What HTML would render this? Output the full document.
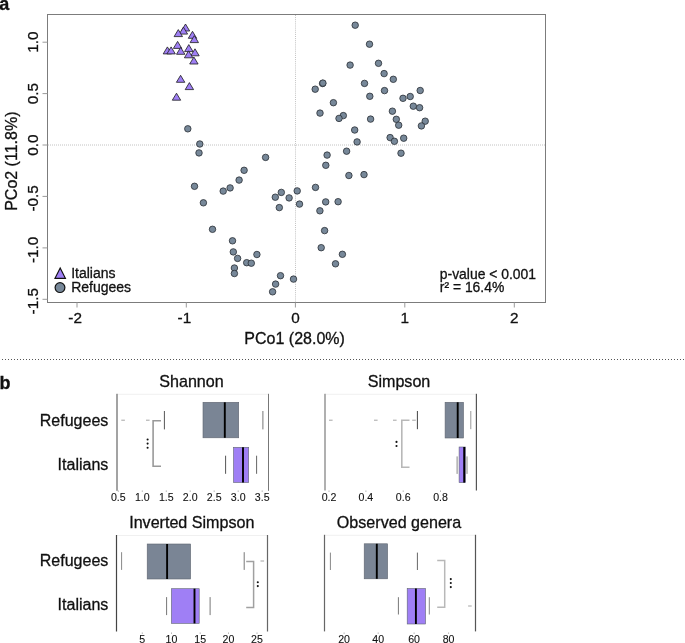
<!DOCTYPE html>
<html><head><meta charset="utf-8"><title>PCoA and diversity</title>
<style>
html,body{margin:0;padding:0;background:#fff;}
body{width:685px;height:643px;overflow:hidden;}
svg{display:block;will-change:transform;}
text{font-family:"Liberation Sans",sans-serif;fill:#111;stroke:#111;stroke-width:0.3px;}
</style></head>
<body>
<svg width="685" height="643" viewBox="0 0 685 643" font-family="Liberation Sans, sans-serif">
<rect width="685" height="643" fill="#fff"/>
<text x="-0.8" y="9.5" font-size="18" font-weight="bold">a</text>
<line x1="48" y1="145" x2="545" y2="145" stroke="#c2c2c2" stroke-width="1" stroke-dasharray="1 1"/>
<line x1="295.5" y1="15" x2="295.5" y2="302" stroke="#c2c2c2" stroke-width="1" stroke-dasharray="1 1.1"/>
<rect x="47.5" y="14.5" width="498" height="288" fill="none" stroke="#7c7c7c" stroke-width="1"/>
<line x1="77.0" y1="302.5" x2="77.0" y2="307.5" stroke="#9a9a9a" stroke-width="1"/>
<text x="75.1" y="323.3" font-size="15.3" text-anchor="middle">-2</text>
<line x1="186.3" y1="302.5" x2="186.3" y2="307.5" stroke="#9a9a9a" stroke-width="1"/>
<text x="184.4" y="323.3" font-size="15.3" text-anchor="middle">-1</text>
<line x1="295.4" y1="302.5" x2="295.4" y2="307.5" stroke="#9a9a9a" stroke-width="1"/>
<text x="295.4" y="323.3" font-size="15.3" text-anchor="middle">0</text>
<line x1="404.8" y1="302.5" x2="404.8" y2="307.5" stroke="#9a9a9a" stroke-width="1"/>
<text x="404.8" y="323.3" font-size="15.3" text-anchor="middle">1</text>
<line x1="514.3" y1="302.5" x2="514.3" y2="307.5" stroke="#9a9a9a" stroke-width="1"/>
<text x="514.3" y="323.3" font-size="15.3" text-anchor="middle">2</text>
<line x1="42.5" y1="42.2" x2="47.5" y2="42.2" stroke="#9a9a9a" stroke-width="1"/>
<text x="38.2" y="42.2" font-size="15.3" text-anchor="middle" transform="rotate(-90 38.2 42.2)">1.0</text>
<line x1="42.5" y1="93.6" x2="47.5" y2="93.6" stroke="#9a9a9a" stroke-width="1"/>
<text x="38.2" y="93.6" font-size="15.3" text-anchor="middle" transform="rotate(-90 38.2 93.6)">0.5</text>
<line x1="42.5" y1="145.0" x2="47.5" y2="145.0" stroke="#9a9a9a" stroke-width="1"/>
<text x="38.2" y="145.0" font-size="15.3" text-anchor="middle" transform="rotate(-90 38.2 145.0)">0.0</text>
<line x1="42.5" y1="196.4" x2="47.5" y2="196.4" stroke="#9a9a9a" stroke-width="1"/>
<text x="38.2" y="198.3" font-size="15.3" text-anchor="middle" transform="rotate(-90 38.2 198.3)">-0.5</text>
<line x1="42.5" y1="247.9" x2="47.5" y2="247.9" stroke="#9a9a9a" stroke-width="1"/>
<text x="38.2" y="249.8" font-size="15.3" text-anchor="middle" transform="rotate(-90 38.2 249.8)">-1.0</text>
<line x1="42.5" y1="299.3" x2="47.5" y2="299.3" stroke="#9a9a9a" stroke-width="1"/>
<text x="38.2" y="301.2" font-size="15.3" text-anchor="middle" transform="rotate(-90 38.2 301.2)">-1.5</text>
<text x="294.6" y="343.5" font-size="16" text-anchor="middle">PCo1 (28.0%)</text>
<text x="16.8" y="161.2" font-size="16" text-anchor="middle" transform="rotate(-90 16.8 161.2)">PCo2 (11.8%)</text>
<circle cx="187.8" cy="128.8" r="3.25" fill="#778899" stroke="#2a2e35" stroke-width="0.8"/>
<circle cx="199.8" cy="144.0" r="3.25" fill="#778899" stroke="#2a2e35" stroke-width="0.8"/>
<circle cx="199.0" cy="152.9" r="3.25" fill="#778899" stroke="#2a2e35" stroke-width="0.8"/>
<circle cx="265.6" cy="157.4" r="3.25" fill="#778899" stroke="#2a2e35" stroke-width="0.8"/>
<circle cx="244.1" cy="170.3" r="3.25" fill="#778899" stroke="#2a2e35" stroke-width="0.8"/>
<circle cx="239.1" cy="180.1" r="3.25" fill="#778899" stroke="#2a2e35" stroke-width="0.8"/>
<circle cx="194.5" cy="186.3" r="3.25" fill="#778899" stroke="#2a2e35" stroke-width="0.8"/>
<circle cx="230.1" cy="187.9" r="3.25" fill="#778899" stroke="#2a2e35" stroke-width="0.8"/>
<circle cx="223.2" cy="191.1" r="3.25" fill="#778899" stroke="#2a2e35" stroke-width="0.8"/>
<circle cx="275.3" cy="197.2" r="3.25" fill="#778899" stroke="#2a2e35" stroke-width="0.8"/>
<circle cx="203.4" cy="202.8" r="3.25" fill="#778899" stroke="#2a2e35" stroke-width="0.8"/>
<circle cx="212.5" cy="229.3" r="3.25" fill="#778899" stroke="#2a2e35" stroke-width="0.8"/>
<circle cx="232.5" cy="240.8" r="3.25" fill="#778899" stroke="#2a2e35" stroke-width="0.8"/>
<circle cx="233.3" cy="251.9" r="3.25" fill="#778899" stroke="#2a2e35" stroke-width="0.8"/>
<circle cx="237.6" cy="258.4" r="3.25" fill="#778899" stroke="#2a2e35" stroke-width="0.8"/>
<circle cx="256.9" cy="254.5" r="3.25" fill="#778899" stroke="#2a2e35" stroke-width="0.8"/>
<circle cx="246.7" cy="262.7" r="3.25" fill="#778899" stroke="#2a2e35" stroke-width="0.8"/>
<circle cx="251.3" cy="263.2" r="3.25" fill="#778899" stroke="#2a2e35" stroke-width="0.8"/>
<circle cx="234.4" cy="268.0" r="3.25" fill="#778899" stroke="#2a2e35" stroke-width="0.8"/>
<circle cx="234.4" cy="273.5" r="3.25" fill="#778899" stroke="#2a2e35" stroke-width="0.8"/>
<circle cx="275.6" cy="284.1" r="3.25" fill="#778899" stroke="#2a2e35" stroke-width="0.8"/>
<circle cx="272.6" cy="291.8" r="3.25" fill="#778899" stroke="#2a2e35" stroke-width="0.8"/>
<circle cx="280.5" cy="275.7" r="3.25" fill="#778899" stroke="#2a2e35" stroke-width="0.8"/>
<circle cx="279.3" cy="207.6" r="3.25" fill="#778899" stroke="#2a2e35" stroke-width="0.8"/>
<circle cx="327.1" cy="155.1" r="3.25" fill="#778899" stroke="#2a2e35" stroke-width="0.8"/>
<circle cx="346.6" cy="151.2" r="3.25" fill="#778899" stroke="#2a2e35" stroke-width="0.8"/>
<circle cx="357.1" cy="141.9" r="3.25" fill="#778899" stroke="#2a2e35" stroke-width="0.8"/>
<circle cx="325.8" cy="165.3" r="3.25" fill="#778899" stroke="#2a2e35" stroke-width="0.8"/>
<circle cx="348.9" cy="175.5" r="3.25" fill="#778899" stroke="#2a2e35" stroke-width="0.8"/>
<circle cx="364.0" cy="174.6" r="3.25" fill="#778899" stroke="#2a2e35" stroke-width="0.8"/>
<circle cx="315.5" cy="187.4" r="3.25" fill="#778899" stroke="#2a2e35" stroke-width="0.8"/>
<circle cx="297.2" cy="190.9" r="3.25" fill="#778899" stroke="#2a2e35" stroke-width="0.8"/>
<circle cx="281.3" cy="192.4" r="3.25" fill="#778899" stroke="#2a2e35" stroke-width="0.8"/>
<circle cx="289.1" cy="197.9" r="3.25" fill="#778899" stroke="#2a2e35" stroke-width="0.8"/>
<circle cx="299.5" cy="204.1" r="3.25" fill="#778899" stroke="#2a2e35" stroke-width="0.8"/>
<circle cx="325.7" cy="201.9" r="3.25" fill="#778899" stroke="#2a2e35" stroke-width="0.8"/>
<circle cx="338.1" cy="201.7" r="3.25" fill="#778899" stroke="#2a2e35" stroke-width="0.8"/>
<circle cx="319.9" cy="210.8" r="3.25" fill="#778899" stroke="#2a2e35" stroke-width="0.8"/>
<circle cx="324.6" cy="230.6" r="3.25" fill="#778899" stroke="#2a2e35" stroke-width="0.8"/>
<circle cx="321.2" cy="247.7" r="3.25" fill="#778899" stroke="#2a2e35" stroke-width="0.8"/>
<circle cx="342.4" cy="254.3" r="3.25" fill="#778899" stroke="#2a2e35" stroke-width="0.8"/>
<circle cx="335.5" cy="263.8" r="3.25" fill="#778899" stroke="#2a2e35" stroke-width="0.8"/>
<circle cx="293.5" cy="279.1" r="3.25" fill="#778899" stroke="#2a2e35" stroke-width="0.8"/>
<circle cx="355.2" cy="25.2" r="3.25" fill="#778899" stroke="#2a2e35" stroke-width="0.8"/>
<circle cx="369.5" cy="44.2" r="3.25" fill="#778899" stroke="#2a2e35" stroke-width="0.8"/>
<circle cx="350.1" cy="65.1" r="3.25" fill="#778899" stroke="#2a2e35" stroke-width="0.8"/>
<circle cx="378.5" cy="63.3" r="3.25" fill="#778899" stroke="#2a2e35" stroke-width="0.8"/>
<circle cx="384.1" cy="73.6" r="3.25" fill="#778899" stroke="#2a2e35" stroke-width="0.8"/>
<circle cx="393.3" cy="79.3" r="3.25" fill="#778899" stroke="#2a2e35" stroke-width="0.8"/>
<circle cx="322.6" cy="83.5" r="3.25" fill="#778899" stroke="#2a2e35" stroke-width="0.8"/>
<circle cx="322.9" cy="83.1" r="3.25" fill="#778899" stroke="#2a2e35" stroke-width="0.8"/>
<circle cx="315.2" cy="89.2" r="3.25" fill="#778899" stroke="#2a2e35" stroke-width="0.8"/>
<circle cx="364.5" cy="83.4" r="3.25" fill="#778899" stroke="#2a2e35" stroke-width="0.8"/>
<circle cx="384.5" cy="90.6" r="3.25" fill="#778899" stroke="#2a2e35" stroke-width="0.8"/>
<circle cx="369.8" cy="96.3" r="3.25" fill="#778899" stroke="#2a2e35" stroke-width="0.8"/>
<circle cx="333.4" cy="102.7" r="3.25" fill="#778899" stroke="#2a2e35" stroke-width="0.8"/>
<circle cx="320.0" cy="113.1" r="3.25" fill="#778899" stroke="#2a2e35" stroke-width="0.8"/>
<circle cx="343.3" cy="115.6" r="3.25" fill="#778899" stroke="#2a2e35" stroke-width="0.8"/>
<circle cx="392.4" cy="111.2" r="3.25" fill="#778899" stroke="#2a2e35" stroke-width="0.8"/>
<circle cx="420.2" cy="90.5" r="3.25" fill="#778899" stroke="#2a2e35" stroke-width="0.8"/>
<circle cx="403.0" cy="98.3" r="3.25" fill="#778899" stroke="#2a2e35" stroke-width="0.8"/>
<circle cx="410.2" cy="96.5" r="3.25" fill="#778899" stroke="#2a2e35" stroke-width="0.8"/>
<circle cx="413.3" cy="106.2" r="3.25" fill="#778899" stroke="#2a2e35" stroke-width="0.8"/>
<circle cx="419.6" cy="107.7" r="3.25" fill="#778899" stroke="#2a2e35" stroke-width="0.8"/>
<circle cx="370.6" cy="119.1" r="3.25" fill="#778899" stroke="#2a2e35" stroke-width="0.8"/>
<circle cx="396.3" cy="119.3" r="3.25" fill="#778899" stroke="#2a2e35" stroke-width="0.8"/>
<circle cx="398.7" cy="125.2" r="3.25" fill="#778899" stroke="#2a2e35" stroke-width="0.8"/>
<circle cx="425.2" cy="121.2" r="3.25" fill="#778899" stroke="#2a2e35" stroke-width="0.8"/>
<circle cx="421.4" cy="125.9" r="3.25" fill="#778899" stroke="#2a2e35" stroke-width="0.8"/>
<circle cx="339.0" cy="118.4" r="3.25" fill="#778899" stroke="#2a2e35" stroke-width="0.8"/>
<circle cx="354.7" cy="130.0" r="3.25" fill="#778899" stroke="#2a2e35" stroke-width="0.8"/>
<circle cx="390.1" cy="137.6" r="3.25" fill="#778899" stroke="#2a2e35" stroke-width="0.8"/>
<circle cx="394.4" cy="141.3" r="3.25" fill="#778899" stroke="#2a2e35" stroke-width="0.8"/>
<circle cx="403.7" cy="138.2" r="3.25" fill="#778899" stroke="#2a2e35" stroke-width="0.8"/>
<circle cx="401.0" cy="153.2" r="3.25" fill="#778899" stroke="#2a2e35" stroke-width="0.8"/>
<polygon points="185.5,24.00 181.30,31.00 189.70,31.00" fill="#9f7ff5" stroke="#1a1a1a" stroke-width="0.8" stroke-linejoin="miter"/>
<polygon points="183.4,27.10 179.20,34.10 187.60,34.10" fill="#9f7ff5" stroke="#1a1a1a" stroke-width="0.8" stroke-linejoin="miter"/>
<polygon points="178.3,29.60 174.10,36.60 182.50,36.60" fill="#9f7ff5" stroke="#1a1a1a" stroke-width="0.8" stroke-linejoin="miter"/>
<polygon points="192.5,31.30 188.30,38.30 196.70,38.30" fill="#9f7ff5" stroke="#1a1a1a" stroke-width="0.8" stroke-linejoin="miter"/>
<polygon points="194.3,35.60 190.10,42.60 198.50,42.60" fill="#9f7ff5" stroke="#1a1a1a" stroke-width="0.8" stroke-linejoin="miter"/>
<polygon points="177.6,41.40 173.40,48.40 181.80,48.40" fill="#9f7ff5" stroke="#1a1a1a" stroke-width="0.8" stroke-linejoin="miter"/>
<polygon points="167.4,46.90 163.20,53.90 171.60,53.90" fill="#9f7ff5" stroke="#1a1a1a" stroke-width="0.8" stroke-linejoin="miter"/>
<polygon points="171.1,46.90 166.90,53.90 175.30,53.90" fill="#9f7ff5" stroke="#1a1a1a" stroke-width="0.8" stroke-linejoin="miter"/>
<polygon points="180.7,47.30 176.50,54.30 184.90,54.30" fill="#9f7ff5" stroke="#1a1a1a" stroke-width="0.8" stroke-linejoin="miter"/>
<polygon points="188.8,44.60 184.60,51.60 193.00,51.60" fill="#9f7ff5" stroke="#1a1a1a" stroke-width="0.8" stroke-linejoin="miter"/>
<polygon points="195.0,48.80 190.80,55.80 199.20,55.80" fill="#9f7ff5" stroke="#1a1a1a" stroke-width="0.8" stroke-linejoin="miter"/>
<polygon points="188.6,50.80 184.40,57.80 192.80,57.80" fill="#9f7ff5" stroke="#1a1a1a" stroke-width="0.8" stroke-linejoin="miter"/>
<polygon points="193.9,57.00 189.70,64.00 198.10,64.00" fill="#9f7ff5" stroke="#1a1a1a" stroke-width="0.8" stroke-linejoin="miter"/>
<polygon points="180.6,75.30 176.40,82.30 184.80,82.30" fill="#9f7ff5" stroke="#1a1a1a" stroke-width="0.8" stroke-linejoin="miter"/>
<polygon points="189.4,82.60 185.20,89.60 193.60,89.60" fill="#9f7ff5" stroke="#1a1a1a" stroke-width="0.8" stroke-linejoin="miter"/>
<polygon points="176.5,93.20 172.30,100.20 180.70,100.20" fill="#9f7ff5" stroke="#1a1a1a" stroke-width="0.8" stroke-linejoin="miter"/>
<polygon points="60.2,268.0 55.0,278.3 65.4,278.3" fill="#9f7ff5" stroke="#111" stroke-width="1.2"/>
<circle cx="60.0" cy="287.6" r="4.9" fill="#778899" stroke="#111" stroke-width="1.2"/>
<text x="71.2" y="277.8" font-size="14">Italians</text>
<text x="71.2" y="291.6" font-size="14">Refugees</text>
<text x="439.8" y="278.9" font-size="13.9">p-value &lt; 0.001</text>
<text x="439.8" y="291.9" font-size="13.9">r² = 16.4%</text>
<line x1="2" y1="359.5" x2="685" y2="359.5" stroke="#555" stroke-width="1" stroke-dasharray="1 2"/>
<text x="-0.6" y="389" font-size="18" font-weight="bold">b</text>
<line x1="117.0" y1="394.3" x2="268.5" y2="394.3" stroke="#f0f0f0" stroke-width="1"/>
<rect x="116.0" y="393.8" width="2" height="97.0" fill="#a3a3a3"/>
<rect x="268.0" y="393.8" width="1" height="97.0" fill="#777"/>
<text x="191.5" y="386.8" font-size="16.1" text-anchor="middle">Shannon</text>
<line x1="164.4" y1="411.0" x2="164.4" y2="429.4" stroke="#555" stroke-width="1"/>
<line x1="262.9" y1="411.0" x2="262.9" y2="429.4" stroke="#777" stroke-width="1"/>
<rect x="203.0" y="402.3" width="35.70" height="35.50" fill="#7a8595" stroke="#5f6570" stroke-width="0.6"/>
<line x1="224.8" y1="402.3" x2="224.8" y2="437.8" stroke="#000" stroke-width="1.9"/>
<line x1="225.6" y1="455.7" x2="225.6" y2="473.8" stroke="#555" stroke-width="1"/>
<line x1="256.6" y1="455.7" x2="256.6" y2="473.8" stroke="#666" stroke-width="1"/>
<rect x="233.5" y="447.3" width="15.20" height="35.20" fill="#9f7ff5" stroke="#5f6570" stroke-width="0.6"/>
<line x1="243.0" y1="447.3" x2="243.0" y2="482.5" stroke="#000" stroke-width="1.9"/>
<line x1="121.3" y1="420.2" x2="124.89999999999999" y2="420.2" stroke="#9a9a9a" stroke-width="0.9"/>
<line x1="146.0" y1="420.2" x2="149.60000000000002" y2="420.2" stroke="#9a9a9a" stroke-width="0.9"/>
<line x1="118.3" y1="490.40000000000003" x2="118.3" y2="492.0" stroke="#aaa" stroke-width="0.8"/>
<text x="118.3" y="500.6" font-size="10.6" text-anchor="middle" style="stroke-width:0.1px">0.5</text>
<line x1="142.3" y1="490.40000000000003" x2="142.3" y2="492.0" stroke="#aaa" stroke-width="0.8"/>
<text x="142.3" y="500.6" font-size="10.6" text-anchor="middle" style="stroke-width:0.1px">1.0</text>
<line x1="166.3" y1="490.40000000000003" x2="166.3" y2="492.0" stroke="#aaa" stroke-width="0.8"/>
<text x="166.3" y="500.6" font-size="10.6" text-anchor="middle" style="stroke-width:0.1px">1.5</text>
<line x1="190.2" y1="490.40000000000003" x2="190.2" y2="492.0" stroke="#aaa" stroke-width="0.8"/>
<text x="190.2" y="500.6" font-size="10.6" text-anchor="middle" style="stroke-width:0.1px">2.0</text>
<line x1="214.2" y1="490.40000000000003" x2="214.2" y2="492.0" stroke="#aaa" stroke-width="0.8"/>
<text x="214.2" y="500.6" font-size="10.6" text-anchor="middle" style="stroke-width:0.1px">2.5</text>
<line x1="238.2" y1="490.40000000000003" x2="238.2" y2="492.0" stroke="#aaa" stroke-width="0.8"/>
<text x="238.2" y="500.6" font-size="10.6" text-anchor="middle" style="stroke-width:0.1px">3.0</text>
<line x1="262.2" y1="490.40000000000003" x2="262.2" y2="492.0" stroke="#aaa" stroke-width="0.8"/>
<text x="262.2" y="500.6" font-size="10.6" text-anchor="middle" style="stroke-width:0.1px">3.5</text>
<polyline points="161.0,420.7 153.1,420.7 153.1,466.2 161.0,466.2" fill="none" stroke="#999" stroke-width="1.6"/>
<circle cx="147.6" cy="439.5" r="1.05" fill="#111"/>
<circle cx="147.6" cy="443.6" r="1.05" fill="#111"/>
<circle cx="147.6" cy="447.7" r="1.05" fill="#111"/>
<line x1="325.0" y1="394.3" x2="476.4" y2="394.3" stroke="#f0f0f0" stroke-width="1"/>
<rect x="324.0" y="393.8" width="2" height="96.69999999999999" fill="#b0b0b0"/>
<rect x="475.79999999999995" y="393.8" width="1.2" height="96.69999999999999" fill="#555"/>
<text x="399.0" y="386.9" font-size="16.1" text-anchor="middle">Simpson</text>
<line x1="417.4" y1="411.0" x2="417.4" y2="429.2" stroke="#444" stroke-width="1"/>
<line x1="470.8" y1="411.0" x2="470.8" y2="429.2" stroke="#999" stroke-width="1"/>
<rect x="445.1" y="402.3" width="18.40" height="35.70" fill="#7a8595" stroke="#5f6570" stroke-width="0.6"/>
<line x1="457.7" y1="402.3" x2="457.7" y2="438.0" stroke="#000" stroke-width="1.9"/>
<line x1="457.1" y1="456.4" x2="457.1" y2="473.9" stroke="#888" stroke-width="1"/>
<line x1="467.0" y1="456.4" x2="467.0" y2="473.9" stroke="#888" stroke-width="1"/>
<rect x="459.1" y="447.0" width="6.40" height="35.60" fill="#9f7ff5" stroke="#5f6570" stroke-width="0.6"/>
<line x1="464.2" y1="447.0" x2="464.2" y2="482.6" stroke="#000" stroke-width="1.9"/>
<line x1="329.0" y1="420.2" x2="332.6" y2="420.2" stroke="#9a9a9a" stroke-width="0.9"/>
<line x1="374.0" y1="420.2" x2="377.6" y2="420.2" stroke="#9a9a9a" stroke-width="0.9"/>
<line x1="393.0" y1="420.2" x2="396.6" y2="420.2" stroke="#9a9a9a" stroke-width="0.9"/>
<line x1="412.2" y1="420.2" x2="415.8" y2="420.2" stroke="#9a9a9a" stroke-width="0.9"/>
<line x1="329.0" y1="490.40000000000003" x2="329.0" y2="492.0" stroke="#aaa" stroke-width="0.8"/>
<text x="329.0" y="500.6" font-size="10.6" text-anchor="middle" style="stroke-width:0.1px">0.2</text>
<line x1="365.9" y1="490.40000000000003" x2="365.9" y2="492.0" stroke="#aaa" stroke-width="0.8"/>
<text x="365.9" y="500.6" font-size="10.6" text-anchor="middle" style="stroke-width:0.1px">0.4</text>
<line x1="403.2" y1="490.40000000000003" x2="403.2" y2="492.0" stroke="#aaa" stroke-width="0.8"/>
<text x="403.2" y="500.6" font-size="10.6" text-anchor="middle" style="stroke-width:0.1px">0.6</text>
<line x1="440.5" y1="490.40000000000003" x2="440.5" y2="492.0" stroke="#aaa" stroke-width="0.8"/>
<text x="440.5" y="500.6" font-size="10.6" text-anchor="middle" style="stroke-width:0.1px">0.8</text>
<polyline points="409.5,420.2 401.8,420.2 401.8,467.2 409.5,467.2" fill="none" stroke="#b8b8b8" stroke-width="1.6"/>
<circle cx="396.5" cy="441.9" r="1.05" fill="#111"/>
<circle cx="396.5" cy="446.0" r="1.05" fill="#111"/>
<line x1="116.5" y1="535.5" x2="267.5" y2="535.5" stroke="#f0f0f0" stroke-width="1"/>
<rect x="115.9" y="535.0" width="1.2" height="96.5" fill="#444"/>
<rect x="266.9" y="535.0" width="1.2" height="96.5" fill="#666"/>
<text x="191.8" y="527.7" font-size="16.1" text-anchor="middle">Inverted Simpson</text>
<line x1="121.6" y1="552.2" x2="121.6" y2="569.9" stroke="#888" stroke-width="1"/>
<line x1="244.2" y1="552.2" x2="244.2" y2="569.9" stroke="#777" stroke-width="1"/>
<rect x="147.2" y="544.0" width="43.40" height="35.00" fill="#7a8595" stroke="#5f6570" stroke-width="0.6"/>
<line x1="167.1" y1="544.0" x2="167.1" y2="579.0" stroke="#000" stroke-width="1.9"/>
<line x1="166.6" y1="597.1" x2="166.6" y2="615.1" stroke="#777" stroke-width="1"/>
<line x1="210.1" y1="597.1" x2="210.1" y2="615.1" stroke="#777" stroke-width="1"/>
<rect x="171.4" y="588.7" width="27.80" height="34.70" fill="#9f7ff5" stroke="#5f6570" stroke-width="0.6"/>
<line x1="194.5" y1="588.7" x2="194.5" y2="623.4" stroke="#000" stroke-width="1.9"/>
<line x1="260.5" y1="561.0" x2="264.1" y2="561.0" stroke="#9a9a9a" stroke-width="0.9"/>
<line x1="142.3" y1="632.4" x2="142.3" y2="634.0" stroke="#aaa" stroke-width="0.8"/>
<text x="142.3" y="642.6" font-size="10.6" text-anchor="middle" style="stroke-width:0.1px">5</text>
<line x1="171.5" y1="632.4" x2="171.5" y2="634.0" stroke="#aaa" stroke-width="0.8"/>
<text x="171.5" y="642.6" font-size="10.6" text-anchor="middle" style="stroke-width:0.1px">10</text>
<line x1="200.2" y1="632.4" x2="200.2" y2="634.0" stroke="#aaa" stroke-width="0.8"/>
<text x="200.2" y="642.6" font-size="10.6" text-anchor="middle" style="stroke-width:0.1px">15</text>
<line x1="228.5" y1="632.4" x2="228.5" y2="634.0" stroke="#aaa" stroke-width="0.8"/>
<text x="228.5" y="642.6" font-size="10.6" text-anchor="middle" style="stroke-width:0.1px">20</text>
<line x1="257.0" y1="632.4" x2="257.0" y2="634.0" stroke="#aaa" stroke-width="0.8"/>
<text x="257.0" y="642.6" font-size="10.6" text-anchor="middle" style="stroke-width:0.1px">25</text>
<polyline points="246.2,561.6 253.6,561.6 253.6,607.6 246.2,607.6" fill="none" stroke="#a0a0a0" stroke-width="1.5"/>
<circle cx="257.8" cy="582.3" r="1.05" fill="#111"/>
<circle cx="257.8" cy="586.1" r="1.05" fill="#111"/>
<line x1="324.5" y1="535.3" x2="475.5" y2="535.3" stroke="#f0f0f0" stroke-width="1"/>
<rect x="323.9" y="534.8" width="1.2" height="96.60000000000002" fill="#666"/>
<rect x="474.9" y="534.8" width="1.2" height="96.60000000000002" fill="#555"/>
<text x="399.0" y="528.0" font-size="16.1" text-anchor="middle">Observed genera</text>
<line x1="330.4" y1="552.6" x2="330.4" y2="570.0" stroke="#888" stroke-width="1"/>
<line x1="417.4" y1="552.6" x2="417.4" y2="570.0" stroke="#666" stroke-width="1"/>
<rect x="364.2" y="543.8" width="23.40" height="35.00" fill="#7a8595" stroke="#5f6570" stroke-width="0.6"/>
<line x1="376.8" y1="543.8" x2="376.8" y2="578.8" stroke="#000" stroke-width="1.9"/>
<line x1="398.4" y1="597.2" x2="398.4" y2="614.5" stroke="#777" stroke-width="1"/>
<line x1="429.3" y1="597.2" x2="429.3" y2="614.5" stroke="#888" stroke-width="1"/>
<rect x="407.2" y="588.5" width="18.30" height="35.50" fill="#9f7ff5" stroke="#5f6570" stroke-width="0.6"/>
<line x1="415.9" y1="588.5" x2="415.9" y2="624.0" stroke="#000" stroke-width="1.9"/>
<line x1="468.09999999999997" y1="606.0" x2="471.7" y2="606.0" stroke="#9a9a9a" stroke-width="0.9"/>
<line x1="344.1" y1="632.4" x2="344.1" y2="634.0" stroke="#aaa" stroke-width="0.8"/>
<text x="344.1" y="642.6" font-size="10.6" text-anchor="middle" style="stroke-width:0.1px">20</text>
<line x1="378.2" y1="632.4" x2="378.2" y2="634.0" stroke="#aaa" stroke-width="0.8"/>
<text x="378.2" y="642.6" font-size="10.6" text-anchor="middle" style="stroke-width:0.1px">40</text>
<line x1="414.1" y1="632.4" x2="414.1" y2="634.0" stroke="#aaa" stroke-width="0.8"/>
<text x="414.1" y="642.6" font-size="10.6" text-anchor="middle" style="stroke-width:0.1px">60</text>
<line x1="448.6" y1="632.4" x2="448.6" y2="634.0" stroke="#aaa" stroke-width="0.8"/>
<text x="448.6" y="642.6" font-size="10.6" text-anchor="middle" style="stroke-width:0.1px">80</text>
<polyline points="437.2,560.4 444.7,560.4 444.7,607.2 437.2,607.2" fill="none" stroke="#b8b8b8" stroke-width="1.5"/>
<circle cx="450.8" cy="579.1" r="1.05" fill="#111"/>
<circle cx="450.8" cy="583.0" r="1.05" fill="#111"/>
<circle cx="450.8" cy="587.1" r="1.05" fill="#111"/>
<text x="108.3" y="425.7" font-size="16" text-anchor="end">Refugees</text>
<text x="108.3" y="469.9" font-size="16" text-anchor="end">Italians</text>
<text x="108.3" y="565.7" font-size="16" text-anchor="end">Refugees</text>
<text x="108.3" y="609.9" font-size="16" text-anchor="end">Italians</text>
</svg>
</body></html>
